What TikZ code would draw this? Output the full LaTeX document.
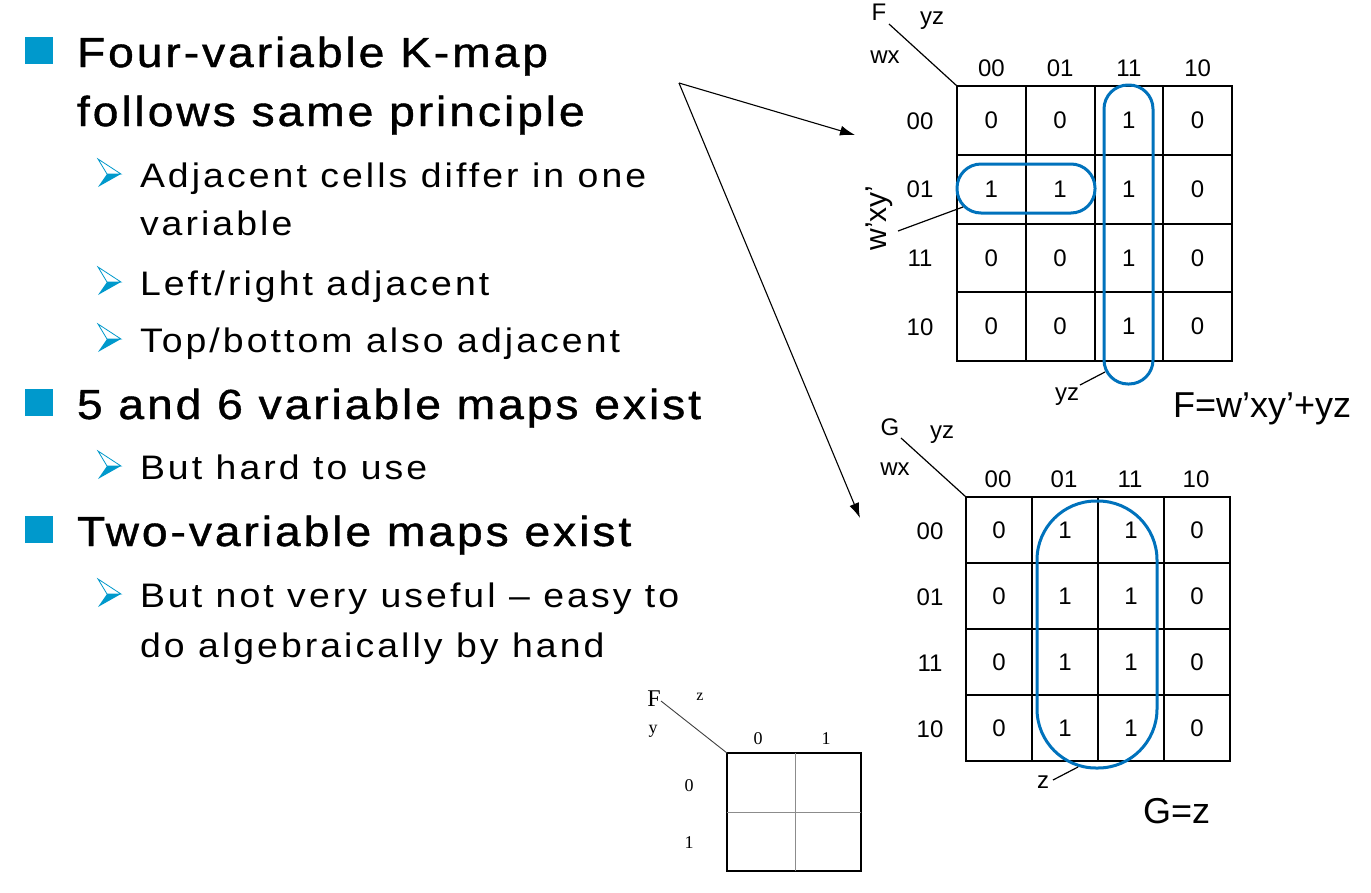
\documentclass[tikz,border=0pt]{standalone}
\usepackage{fontspec}
\setmainfont{Liberation Sans}
\newfontfamily\mainbulletfont[FakeStretch=1.1,LetterSpace=7,FakeBold=1]{Liberation Sans}
\newfontfamily\subbulletfont[FakeStretch=1.1,LetterSpace=9]{Liberation Sans}
\newfontfamily\serifmap{Liberation Serif}
\usetikzlibrary{arrows.meta}
\definecolor{loopblue}{RGB}{0,114,188}
\definecolor{bulletblue}{RGB}{0,153,204}
\begin{document}
\begin{tikzpicture}[x=1pt,y=-1pt,
  every node/.style={inner sep=0pt, outer sep=0pt},
  mainline/.style={anchor=base west, font=\mainbulletfont\fontsize{42}{48}\selectfont},
  subline/.style={anchor=base west, font=\subbulletfont\fontsize{34}{38}\selectfont},
  maplbl/.style={anchor=base, font=\fontsize{24}{28}\selectfont},
  cellval/.style={anchor=center, font=\fontsize{24}{28}\selectfont},
  formula/.style={anchor=base west, font=\fontsize{36}{40}\selectfont},
  gridline/.style={line width=2pt, line cap=rect},
  thinline/.style={line width=1.2pt},
  grouploop/.style={draw=loopblue, line width=3pt},
  pointer/.style={line width=1.1pt, -{Latex[length=15pt,width=10pt]}},
  smallmap/.style={font=\serifmap\fontsize{18}{22}\selectfont, anchor=base},
]
\useasboundingbox (0,0) rectangle (1371,892);
\fill[white] (0,0) rectangle (1371,892);

% ---------------- bullets ----------------
\foreach \b in {67,419,546}{
  \fill[bulletblue] (25,{\b-30}) rectangle (53,{\b-3});
}
\foreach \b in {187,295,352,479,607}{
  \fill[bulletblue] (107,{\b-13}) -- (121,{\b-13}) -- (98,{\b}) -- cycle;
  \draw[bulletblue, line width=0.8pt, line join=miter] (98,{\b-28}) -- (121,{\b-13}) -- (107,{\b-13}) -- cycle;
}
\node[mainline] (m1) at (77,67) {Four-variable K-map};
\node[mainline] (m1b) at (77,126) {follows same principle};
\node[subline] (s1) at (140,187) {Adjacent cells differ in one};
\node[subline] (s1b) at (140,235) {variable};
\node[subline] (s2) at (140,295) {Left/right adjacent};
\node[subline] (s3) at (140,352) {Top/bottom also adjacent};
\node[mainline] (m2) at (77,419) {5 and 6 variable maps exist};
\node[subline] (s4) at (140,479) {But hard to use};
\node[mainline] (m3) at (77,546) {Two-variable maps exist};
\node[subline] (s5) at (140,607) {But not very useful – easy to};
\node[subline] (s5b) at (140,657) {do algebraically by hand};

% ---------------- pointers ----------------
\coordinate (src) at (679,83);
\coordinate (fend) at (855,135);
\coordinate (gend) at (860,518);
\draw[pointer] (src) -- (fend);
\draw[pointer] (src) -- (gend);

% ---------------- F map ----------------
\foreach \i in {0,...,4}{
  \draw[gridline] ({957+68.75*\i},86) -- ({957+68.75*\i},361);
  \draw[gridline] (957,{86+68.75*\i}) -- (1232,{86+68.75*\i});
}
\coordinate (fcorner) at (957,86);
\coordinate (fdiag) at (889,24);
\draw[thinline] (fdiag) -- (fcorner);
\node[maplbl] (fF) at (879,20) {F};
\node[maplbl] (fyz) at (932,24) {yz};
\node[maplbl] (fwx) at (885,63) {wx};
\foreach \t [count=\i from 0] in {00,01,11,10}{
  \node[maplbl] (fc-\i) at ({991.4+68.75*\i},76) {\t};
  \node[maplbl] (fr-\i) at (920,{129+68.75*\i}) {\t};
}
\foreach \r in {0,...,3}{
  \foreach \c in {0,...,3}{
    \pgfmathtruncatemacro\fv{((\c==2)||((\r==1)&&(\c<2))) ? 1 : 0}
    \node[cellval] (f-\r-\c) at ({991.4+68.75*\c},{120.4+68.75*\r}) {\fv};
  }
}
\draw[grouploop, rounded corners=24pt] (957,164) rectangle (1095,213);
\draw[grouploop, rounded corners=24pt] (1104,85) rectangle (1153,384);
\node[anchor=center, rotate=90, font=\fontsize{30}{34}\selectfont] (fwxy) at (879,218) {w’xy’};
\coordinate (fwxya) at (898,231);
\coordinate (fwxyb) at (963,207);
\draw[thinline] (fwxya) -- (fwxyb);
\node[maplbl] (fyzl) at (1067,400) {yz};
\coordinate (fyza) at (1080,385);
\coordinate (fyzb) at (1105,372);
\draw[thinline] (fyza) -- (fyzb);
\node[formula] (fform) at (1173,417) {F=w’xy’+yz};

% ---------------- G map ----------------
\foreach \i in {0,...,4}{
  \draw[gridline] ({966+66*\i},497) -- ({966+66*\i},761);
  \draw[gridline] (966,{497+66*\i}) -- (1230,{497+66*\i});
}
\coordinate (gcorner) at (966,497);
\coordinate (gdiag) at (901,438);
\draw[thinline] (gdiag) -- (gcorner);
\node[maplbl] (gG) at (890,435) {G};
\node[maplbl] (gyz) at (942,438) {yz};
\node[maplbl] (gwx) at (895,475) {wx};
\foreach \t [count=\i from 0] in {00,01,11,10}{
  \node[maplbl] (gc-\i) at ({998+66*\i},487) {\t};
  \node[maplbl] (gr-\i) at (930,{539+66*\i}) {\t};
}
\foreach \r in {0,...,3}{
  \foreach \c in {0,...,3}{
    \pgfmathtruncatemacro\gv{((\c==1)||(\c==2)) ? 1 : 0}
    \node[cellval] (g-\r-\c) at ({999+66*\c},{530+66*\r}) {\gv};
  }
}
\draw[grouploop, rounded corners=59pt] (1037,501) rectangle (1157,768);
\node[maplbl] (gzl) at (1043,788) {z};
\coordinate (gza) at (1053,780);
\coordinate (gzb) at (1078,767);
\draw[thinline] (gza) -- (gzb);
\node[formula] (gform) at (1143,823) {G=z};

% ---------------- two-variable map ----------------
\draw[line width=1.2pt] (727,753) rectangle (861,871);
\draw[line width=1pt, draw=black!45] (795,753) -- (795,871);
\draw[line width=1pt, draw=black!45] (727,812.5) -- (861,812.5);
\coordinate (scorner) at (727,753);
\coordinate (sdiag) at (661,701);
\draw[line width=0.9pt, draw=black!75] (sdiag) -- (scorner);
\node[smallmap, font=\serifmap\fontsize{24}{28}\selectfont] (sF) at (654,706) {F};
\node[smallmap, font=\serifmap\fontsize{16}{20}\selectfont] (sz) at (700,700) {z};
\node[smallmap] (sy) at (653,733) {y};
\node[smallmap] (sc0) at (758,744) {0};
\node[smallmap] (sc1) at (826,744) {1};
\node[smallmap] (sr0) at (689,791) {0};
\node[smallmap] (sr1) at (689,848) {1};
\end{tikzpicture}
\end{document}
